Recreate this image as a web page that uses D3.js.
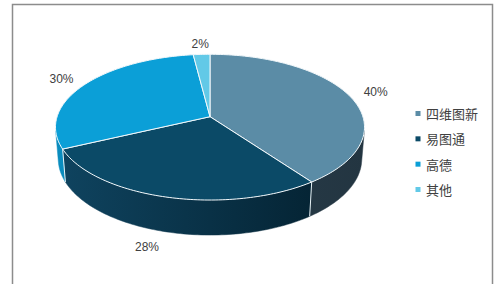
<!DOCTYPE html>
<html>
<head>
<meta charset="utf-8">
<script src="https://cdn.jsdelivr.net/npm/d3@7"></script>
<style>
  html, body { margin: 0; padding: 0; background: #fff; }
  svg { display: block; }
</style>
</head>
<body>
<div id="chart"></div>
<script>
// Data
const categories = ["四维图新", "易图通", "高德", "其他"];
const shares = [40, 28, 30, 2];
const labels = ["40%", "28%", "30%", "2%"];
const topColors = ["#5b8ca6", "#0b4a67", "#0b9fd7", "#62c9e7"];
const sideColors = [["#2e4553", "#233541"], ["#0f4460", "#031e2c"], ["#0a8dbf", "#07729c"], ["#4fb4d2", "#3a98b5"]];

const width = 504, height = 284;

const svg = d3.select("#chart").append("svg")
   .attr("width", width)
   .attr("height", height);

// chart frame
svg.append("rect")
   .attr("x", 12.5).attr("y", 4.5)
   .attr("width", 480).attr("height", 300)
   .attr("fill", "none")
   .attr("stroke", "#8c8c8c")
   .attr("stroke-width", 1.5);

// ** simple perspective camera for the 3D pie
const cam = {cx: 210, cy: 116.7, f: 942, dist: 6.16, tilt: Math.asin(0.4667), depth: 0.2375};
const proj = (a, r, z) => {
   const X = r * Math.sin(a), Y = r * Math.cos(a);
   const yc = Y * Math.sin(cam.tilt) + z * Math.cos(cam.tilt);
   const zc = Y * Math.cos(cam.tilt) - z * Math.sin(cam.tilt) + cam.dist;
   return [cam.cx + cam.f * X / zc, cam.cy - cam.f * yc / zc];
};

const arcPoints = (a0, a1, r, z) => {
   const n = Math.max(2, Math.ceil(Math.abs(a1 - a0) / 0.02));
   return d3.range(n + 1).map(i => proj(a0 + (a1 - a0) * i / n, r, z));
};

const pie = d3.pie().sort(null).value(d => d)(shares);
const line = d3.line();

// wall is front facing where cos(a) < -1/(dist*cos(tilt))
const limit = Math.acos(-1 / (cam.dist * Math.cos(cam.tilt)));
const visLo = limit, visHi = 2 * Math.PI - limit;

const defs = svg.append("defs");
sideColors.forEach((c, i) => {
   const g = defs.append("linearGradient")
      .attr("id", "side" + i)
      .attr("gradientUnits", "userSpaceOnUse")
      .attr("x1", 55).attr("x2", 365).attr("y1", 0).attr("y2", 0);
   g.append("stop").attr("offset", 0).attr("stop-color", c[0]);
   g.append("stop").attr("offset", 1).attr("stop-color", c[1]);
});

// ** side walls
const walls = svg.append("g");
pie.forEach((p, i) => {
   const a0 = Math.max(p.startAngle, visLo), a1 = Math.min(p.endAngle, visHi);
   if (a1 <= a0) return;
   const pts = arcPoints(a0, a1, 1, 0).concat(arcPoints(a1, a0, 1, -cam.depth));
   walls.append("path")
      .attr("d", line(pts) + "Z")
      .attr("fill", `url(#side${i})`)
      .attr("stroke", `url(#side${i})`)
      .attr("stroke-width", 0.5);
});
// divider lines on the wall
pie.forEach(p => {
   const a = p.endAngle;
   if (a > visLo && a < visHi) {
      walls.append("path")
         .attr("d", line([proj(a, 1, 0), proj(a, 1, -cam.depth)]))
         .attr("stroke", "#e8f2f6")
         .attr("stroke-width", 1)
         .attr("fill", "none");
   }
});

// ** top faces
const tops = svg.append("g");
pie.forEach((p, i) => {
   const pts = [proj(0, 0, 0)].concat(arcPoints(p.startAngle, p.endAngle, 1, 0));
   tops.append("path")
      .attr("d", line(pts) + "Z")
      .attr("fill", topColors[i])
      .attr("stroke", "#f2f8fb")
      .attr("stroke-width", 1)
      .attr("stroke-linejoin", "round");
});

// ** data labels (front ones sit under the wall, pushed outward)
pie.forEach((p, i) => {
   const mid = (p.startAngle + p.endAngle) / 2;
   const front = Math.cos(mid) < 0;
   const pos = front ? proj(mid, 1.15, -cam.depth) : proj(mid, 1.2, 0);
   const anchor = front ? (Math.sin(mid) < 0 ? "end" : "start") : "middle";
   svg.append("text")
      .attr("x", pos[0])
      .attr("y", pos[1])
      .attr("text-anchor", anchor)
      .attr("dominant-baseline", "central")
      .attr("font-family", "'Liberation Sans', Arial, sans-serif")
      .attr("font-size", 12)
      .attr("fill", "#404040")
      .text(labels[i]);
});

// ** legend
const legendY = d3.scalePoint().domain(categories).range([113.5, 189.5]);
const legend = svg.append("g");
categories.forEach((c, i) => {
   const y = legendY(c);
   legend.append("rect")
      .attr("x", 415.5).attr("y", y - 2.5)
      .attr("width", 5).attr("height", 5)
      .attr("fill", topColors[i]);
   legend.append("text")
      .attr("x", 426)
      .attr("y", y)
      .attr("dominant-baseline", "central")
      .attr("font-family", "'Noto Sans CJK SC', sans-serif")
      .attr("font-size", 13)
      .attr("fill", "#404040")
      .text(c);
});
</script>
</body>
</html>
